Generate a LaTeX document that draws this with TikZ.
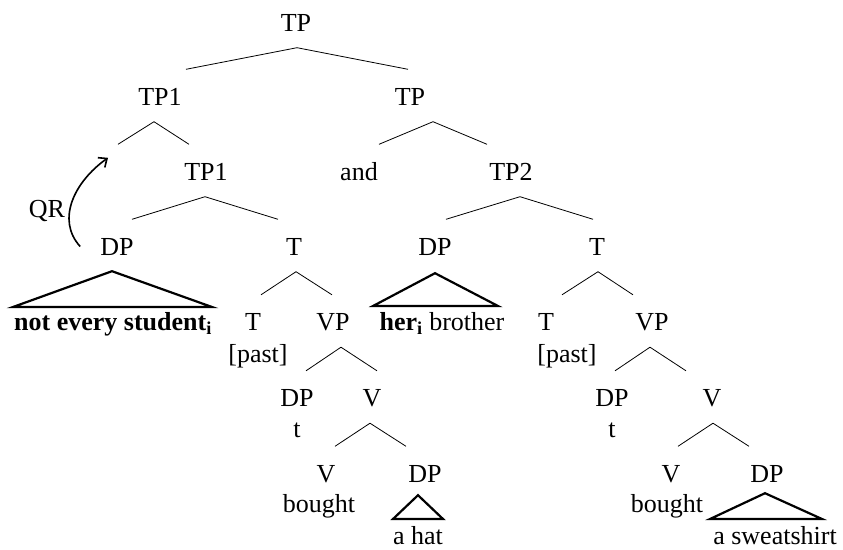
\documentclass[tikz,border=0pt]{standalone}
\usepackage{fontspec}
\setmainfont{Liberation Serif}
\usetikzlibrary{arrows.meta}
% one branch: parent, x-offset of the apex, child, x-offset of the lower end
\newcommand{\br}[4]{\draw[branch] ([shift={(#2,16.5)}]#1.south) -- ([shift={(#4,-18.5)}]#3.north);}

\begin{document}
\begin{tikzpicture}[x=1pt, y=-1pt, font=\fontsize{26}{31}\selectfont,
    every node/.style={inner sep=0pt, text height=17pt, text depth=0pt},
    branch/.style={line width=0.8pt},
    roof/.style={line width=2.2pt, line join=miter},
    qrarrow/.style={line width=1.6pt, -{Straight Barb[length=7pt,width=12pt]}}]
  \useasboundingbox (0,0) rectangle (843,549);
  % labels
  \node (tp)  at (296,22.5)  {TP};
  \node (tpa) at (160,96.5)  {TP1};
  \node (tpb) at (410,96.5)  {TP};
  \node (gap) at (108,171.5) {};
  \node (tpc) at (206,171.5) {TP1};
  \node (and) at (359,171.5) {and};
  \node (tpd) at (511,171.5) {TP2};
  \node (qr)  at (47,208.5)  {QR};
  \node (dpa) at (117,246.5) {DP};
  \node (ta)  at (294,246.5) {T};
  \node (dpb) at (435,246.5) {DP};
  \node (tb)  at (597,246.5) {T};
  \node (nes) at (113,322)   {\textbf{not every student\textsubscript{i}}};
  \node (her) at (442,322)   {\textbf{her\textsubscript{i}} brother};
  \node (tc)  at (253,322)   {T};
  \node (vpa) at (333,322)   {VP};
  \node (te)  at (546,322)   {T};
  \node (vpb) at (652,322)   {VP};
  \node (pasta) at (258,353.5) {[past]};
  \node (pastb) at (567,353.5) {[past]};
  \node (dpc) at (297,398)   {DP};
  \node (va)  at (372,398)   {V};
  \node (dpd) at (612,398)   {DP};
  \node (vb)  at (712,398)   {V};
  \node (tra) at (297,428.5) {t};
  \node (trb) at (612,428.5) {t};
  \node (vc)  at (326,473.5) {V};
  \node (dpe) at (425,473.5) {DP};
  \node (vd)  at (671,473.5) {V};
  \node (dpf) at (767,473.5) {DP};
  \node (bga) at (319,503.5) {bought};
  \node (bgb) at (667,503.5) {bought};
  \node (hat) at (418,535.5) {a hat};
  \node (swt) at (775,535.5) {a sweatshirt};
  % branches
  \br{tp}{1}{tpa}{26}
  \br{tp}{1}{tpb}{-2}
  \br{tpa}{-6}{gap}{10}
  \br{tpa}{-6}{tpc}{-17}
  \br{tpb}{23}{and}{20}
  \br{tpb}{23}{tpd}{-24}
  \br{tpc}{-1}{dpa}{15}
  \br{tpc}{-1}{ta}{-16}
  \br{tpd}{9}{dpb}{11}
  \br{tpd}{9}{tb}{-4}
  \br{ta}{2}{tc}{8}
  \br{ta}{2}{vpa}{-1}
  \br{tb}{1}{te}{16}
  \br{tb}{1}{vpb}{-19}
  \br{vpa}{8}{dpc}{9}
  \br{vpa}{8}{va}{5}
  \br{vpb}{-2}{dpd}{3}
  \br{vpb}{-2}{vb}{-26}
  \br{va}{-2}{vc}{9}
  \br{va}{-2}{dpe}{-19}
  \br{vb}{1}{vd}{7}
  \br{vb}{1}{dpf}{-18}
  % triangles
  \draw[roof] ([shift={(-5,16)}]dpa.south) -- (13,307) -- (212,307) -- cycle;
  \draw[roof] ([shift={(0,18)}]dpb.south) -- (373,306) -- (498,306) -- cycle;
  \draw[roof] ([shift={(-7,13)}]dpe.south) -- (393,519) -- (443,519) -- cycle;
  \draw[roof] ([shift={(-2,11)}]dpf.south) -- (710,519) -- (822,519) -- cycle;
  % movement
  \draw[qrarrow] ([xshift=-20pt]dpa.west) .. controls (56,220) and (74,182) .. ([yshift=5pt]gap.north);
\end{tikzpicture}
\end{document}
